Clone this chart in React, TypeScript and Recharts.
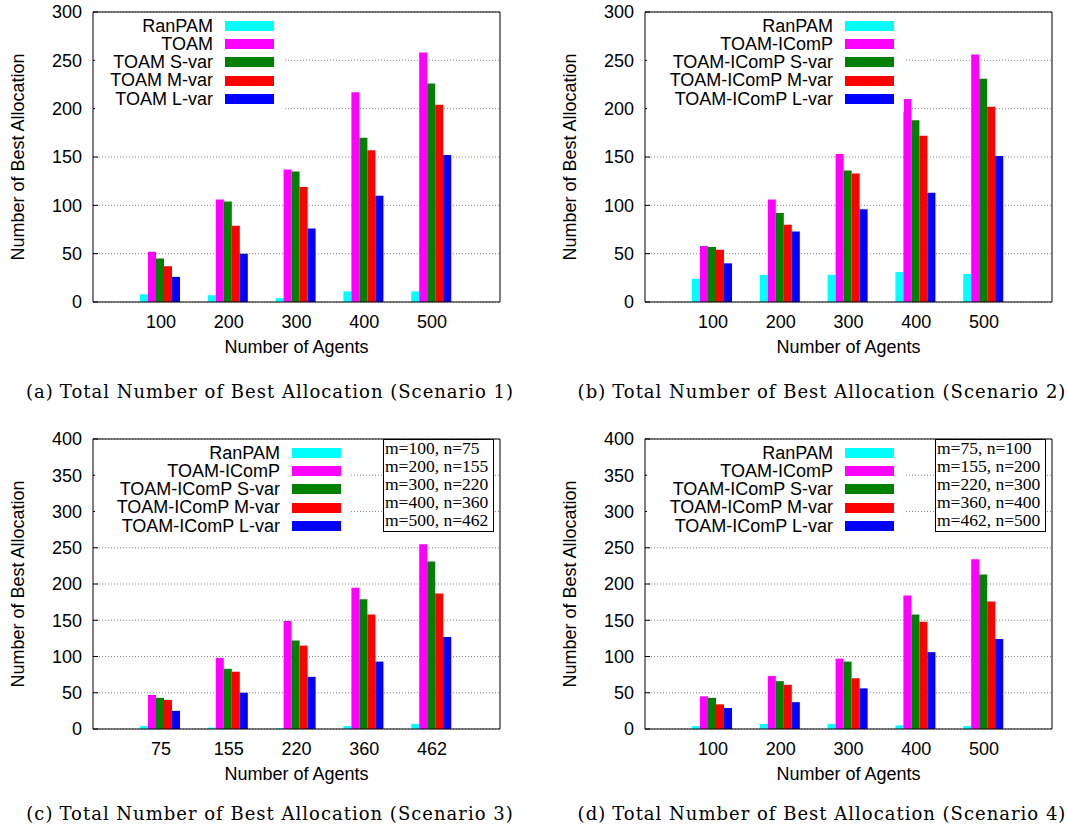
import { BarChart, Bar, XAxis, YAxis, CartesianGrid, Legend } from 'recharts'

const COLORS = ['#00ffff', '#ff00ff', '#008000', '#ff0000', '#0000ff']
const SANS = '"Liberation Sans", Arial, Helvetica, sans-serif'
const SERIF = '"Liberation Serif", "Times New Roman", serif'
const CAPTION_FONT = '"DejaVu Serif", serif'

const namesToam = ['RanPAM', 'TOAM', 'TOAM S-var', 'TOAM M-var', 'TOAM L-var']
const namesIcomp = ['RanPAM', 'TOAM-IComP', 'TOAM-IComP S-var', 'TOAM-IComP M-var', 'TOAM-IComP L-var']

const agents = ['100', '200', '300', '400', '500']
const agentsS3 = ['75', '155', '220', '360', '462']

const ticks300 = [0, 50, 100, 150, 200, 250, 300]
const ticks400 = [0, 50, 100, 150, 200, 250, 300, 350, 400]

// scenario 1
const s1RanPam = [8, 7, 4, 11, 11]
const s1Toam = [52, 106, 137, 217, 258]
const s1SVar = [45, 104, 135, 170, 226]
const s1MVar = [37, 79, 119, 157, 204]
const s1LVar = [26, 50, 76, 110, 152]

// scenario 2
const s2RanPam = [24, 28, 28, 31, 29]
const s2Toam = [58, 106, 153, 210, 256]
const s2SVar = [57, 92, 136, 188, 231]
const s2MVar = [54, 80, 133, 172, 202]
const s2LVar = [40, 73, 96, 113, 151]

// scenario 3
const s3RanPam = [4, 2, 1, 4, 7]
const s3Toam = [47, 98, 149, 195, 255]
const s3SVar = [43, 83, 122, 179, 231]
const s3MVar = [40, 79, 115, 158, 187]
const s3LVar = [25, 50, 72, 93, 127]

// scenario 4
const s4RanPam = [4, 7, 7, 5, 4]
const s4Toam = [45, 73, 97, 184, 234]
const s4SVar = [43, 66, 93, 158, 213]
const s4MVar = [34, 61, 70, 148, 176]
const s4LVar = [29, 37, 56, 106, 124]

const boxS3 = ['m=100, n=75', 'm=200, n=155', 'm=300, n=220', 'm=400, n=360', 'm=500, n=462']
const boxS4 = ['m=75, n=100', 'm=155, n=200', 'm=220, n=300', 'm=360, n=400', 'm=462, n=500']

const PLOT_LEFT = 93
const PLOT_TOP = 12

function YLabel(props: any) {
  const vb = props.viewBox || { x: 0, y: 0, height: 0 }
  const cx = vb.x + 18
  const cy = vb.y + vb.height / 2
  return (
    <text
      x={cx}
      y={cy}
      transform={`rotate(-90 ${cx} ${cy})`}
      textAnchor="middle"
      dominantBaseline="central"
      fontSize={18}
      fill="#000"
      fontFamily={SANS}
    >
      Number of Best Allocation
    </text>
  )
}

function LegendBox({ payload, names, textWidth }: { payload?: any[]; names: string[]; textWidth: number }) {
  // keep the series order, not alphabetical
  const items = [...(payload || [])].sort((a, b) => names.indexOf(a.value) - names.indexOf(b.value))
  return (
    <div
      style={{
        background: '#fff',
        padding: '3.5px 10px 4px 0',
        fontFamily: SANS,
        fontSize: 18,
        color: '#000',
      }}
    >
      {items.map((item) => (
        <div key={item.value} style={{ display: 'flex', alignItems: 'center', height: 18.3 }}>
          <span style={{ width: textWidth, textAlign: 'right', whiteSpace: 'nowrap', lineHeight: '18.3px' }}>
            {item.value}
          </span>
          <span style={{ width: 49, height: 10, background: item.color, marginLeft: 12 }} />
        </div>
      ))}
    </div>
  )
}

interface PanelProps {
  left: number
  top: number
  tag: string
  caption: string
  captionY: number
  categories: string[]
  names: string[]
  series: number[][]
  yMax: number
  yTicks: number[]
  legendRight: number
  boxLines?: string[]
}

function Panel({
  left,
  top,
  tag,
  caption,
  captionY,
  categories,
  names,
  series,
  yMax,
  yTicks,
  legendRight,
  boxLines,
}: PanelProps) {
  const data = categories.map((c, i) => {
    const row: Record<string, string | number> = { agents: c }
    series.forEach((s, k) => {
      row['s' + k] = s[i]
    })
    return row
  })

  return (
    <div style={{ position: 'absolute', left, top, width: 540, height: 405 }}>
      <BarChart
        width={520}
        height={362}
        data={data}
        margin={{ top: 2, right: 10, bottom: 0, left: 0 }}
        barCategoryGap={13}
        barGap={0}
        style={{ fontFamily: SANS }}
      >
        <CartesianGrid vertical={false} stroke="#888" strokeDasharray="1 2" />
        {names.map((n, k) => (
          <Bar key={n} dataKey={'s' + k} name={n} fill={COLORS[k]} isAnimationActive={false} />
        ))}
        <XAxis
          dataKey="agents"
          interval={0}
          padding={{ left: 34, right: 34 }}
          height={60}
          tickSize={0}
          tickMargin={13}
          tickLine={false}
          axisLine={{ stroke: '#000' }}
          tick={{ fontSize: 18, fill: '#000' }}
          label={{ value: 'Number of Agents', position: 'insideBottom', offset: 9, fontSize: 18, fill: '#000' }}
        />
        <XAxis
          xAxisId="top"
          orientation="top"
          dataKey="agents"
          interval={0}
          padding={{ left: 34, right: 34 }}
          height={10}
          tickSize={-5}
          tick={false}
          axisLine={{ stroke: '#000' }}
          tickLine={{ stroke: '#000' }}
        />
        <YAxis
          domain={[0, yMax]}
          ticks={yTicks}
          interval={0}
          allowDataOverflow
          width={PLOT_LEFT}
          tickSize={-5}
          tickMargin={16}
          axisLine={{ stroke: '#000' }}
          tickLine={{ stroke: '#000' }}
          tick={{ fontSize: 18, fill: '#000' }}
          label={YLabel}
        />
        <YAxis
          yAxisId="right"
          orientation="right"
          domain={[0, yMax]}
          ticks={yTicks}
          interval={0}
          width={10}
          tickSize={-5}
          tick={false}
          axisLine={{ stroke: '#000' }}
          tickLine={{ stroke: '#000' }}
        />
        <Legend
          layout="horizontal"
          verticalAlign="middle"
          align="center"
          wrapperStyle={{ left: PLOT_LEFT + 2, top: 13, width: 'auto', height: 'auto' }}
          content={(p: any) => <LegendBox payload={p.payload} names={names} textWidth={legendRight - 2} />}
        />
      </BarChart>
      {boxLines && (
        <div
          style={{
            position: 'absolute',
            left: PLOT_LEFT + 290,
            top: PLOT_TOP,
            width: 111,
            height: 93,
            boxSizing: 'border-box',
            border: '1px solid #000',
            background: '#fff',
            fontFamily: SERIF,
            fontSize: 17.5,
            lineHeight: '18px',
            paddingLeft: 1,
            color: '#000',
          }}
        >
          <div style={{ position: 'relative', top: -1 }}>
            {boxLines.map((l) => (
              <div key={l} style={{ whiteSpace: 'nowrap' }}>
                {l}
              </div>
            ))}
          </div>
        </div>
      )}
      <div
        style={{
          position: 'absolute',
          left: 0,
          top: captionY - 12,
          width: 540,
          textAlign: 'center',
          fontFamily: CAPTION_FONT,
          fontSize: 18,
          letterSpacing: 1,
          lineHeight: '24px',
          color: '#000',
          whiteSpace: 'nowrap',
        }}
      >
        <span style={{ marginRight: 6 }}>({tag})</span>
        {caption}
      </div>
    </div>
  )
}

export default function App() {
  return (
    <div style={{ position: 'absolute', left: 0, top: 0, width: 1068, height: 832, background: '#fff' }}>
      <Panel
        left={0}
        top={0}
        tag="a"
        caption="Total Number of Best Allocation (Scenario 1)"
        captionY={392}
        categories={agents}
        names={namesToam}
        series={[s1RanPam, s1Toam, s1SVar, s1MVar, s1LVar]}
        yMax={300}
        yTicks={ticks300}
        legendRight={120}
      />
      <Panel
        left={552}
        top={0}
        tag="b"
        caption="Total Number of Best Allocation (Scenario 2)"
        captionY={392}
        categories={agents}
        names={namesIcomp}
        series={[s2RanPam, s2Toam, s2SVar, s2MVar, s2LVar]}
        yMax={300}
        yTicks={ticks300}
        legendRight={188}
      />
      <Panel
        left={0}
        top={427}
        tag="c"
        caption="Total Number of Best Allocation (Scenario 3)"
        captionY={387}
        categories={agentsS3}
        names={namesIcomp}
        series={[s3RanPam, s3Toam, s3SVar, s3MVar, s3LVar]}
        yMax={400}
        yTicks={ticks400}
        legendRight={187}
        boxLines={boxS3}
      />
      <Panel
        left={552}
        top={427}
        tag="d"
        caption="Total Number of Best Allocation (Scenario 4)"
        captionY={387}
        categories={agents}
        names={namesIcomp}
        series={[s4RanPam, s4Toam, s4SVar, s4MVar, s4LVar]}
        yMax={400}
        yTicks={ticks400}
        legendRight={188}
        boxLines={boxS4}
      />
    </div>
  )
}
